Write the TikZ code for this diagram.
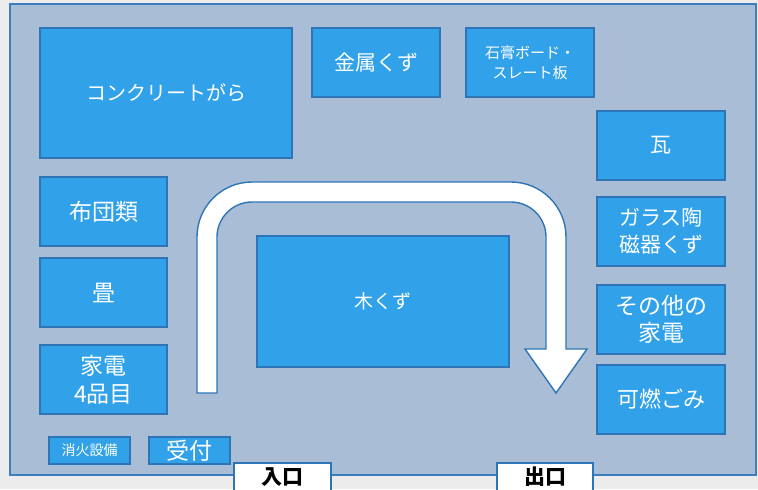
\documentclass[tikz,border=0pt]{standalone}
\usepackage{fontspec}
\setmainfont{Noto Sans CJK JP}
\usepackage{tikz}
\usetikzlibrary{calc}

\definecolor{boxfill}{RGB}{49,162,234}
\definecolor{boxline}{RGB}{46,117,182}
\definecolor{yardfill}{RGB}{170,189,215}
\definecolor{yardline}{RGB}{59,127,191}
\newcommand{\setfs}[2]{\fontsize{#1}{#2}\selectfont}

\tikzset{
  zone/.style={draw=boxline, fill=boxfill, text=white, align=center, inner sep=0pt, line width=.7pt},
  gate/.style={draw=boxline, fill=white, text=black, align=center, inner sep=0pt, line width=.7pt, font=\setfs{10.5pt}{12pt}\bfseries},
  route/.style={draw=boxline, fill=white, line width=.7pt}
}

\begin{document}
\begin{tikzpicture}[x=.5pt,y=-.5pt]
\useasboundingbox (0,0) rectangle (758,489);
\clip (0,0) rectangle (758,489);
\fill [gray!15] (0,0) rectangle (758,489);
% yard
\draw [draw=yardline, fill=yardfill, line width=.7pt] (10,4) rectangle (756,475);
% left column
\node (conc) at (166,93) [zone, minimum width=126pt, minimum height=65pt, font=\setfs{10pt}{12pt}] {コンクリートがら};
\node (futon) at (103.5,211.5) [zone, minimum width=63.5pt, minimum height=34.5pt, font=\setfs{11.5pt}{14pt}] {布団類};
\node (tatami) at (103.5,292.5) [zone, minimum width=63.5pt, minimum height=34.5pt, font=\setfs{11.5pt}{14pt}] {畳};
\node (kaden) at (103.5,379.5) [zone, minimum width=63.5pt, minimum height=34.5pt, font=\setfs{11.5pt}{14pt}] {家電\\4品目};
\node (fire) at (89.5,450.5) [zone, minimum width=40.5pt, minimum height=13.5pt, font=\setfs{7pt}{8pt}] {消火設備};
\node (desk) at (189.5,450.5) [zone, minimum width=40.5pt, minimum height=13.5pt, font=\setfs{11.5pt}{13pt}] {受付};
% top row
\node (metal) at (376,62.5) [zone, minimum width=64pt, minimum height=34.5pt, font=\setfs{10.5pt}{12pt}] {金属くず};
\node (gyps) at (530,62.5) [zone, minimum width=64pt, minimum height=34.5pt, font=\setfs{7.5pt}{10pt}] {石膏ボード・\\スレート板};
% right column
\node (tile) at (661,145.5) [zone, minimum width=64pt, minimum height=34.5pt, font=\setfs{10.5pt}{12pt}] {瓦};
\node (glass) at (661,231.5) [zone, minimum width=64pt, minimum height=34.5pt, font=\setfs{10.5pt}{13.5pt}] {ガラス陶\\磁器くず};
\node (other) at (661,319.5) [zone, minimum width=64pt, minimum height=34.5pt, font=\setfs{11.5pt}{13.5pt}] {その他の\\家電};
\node (burn) at (661,399.5) [zone, minimum width=64pt, minimum height=34.5pt, font=\setfs{11pt}{13pt}] {可燃ごみ};
% middle
\node (wood) at (383,301.5) [zone, minimum width=126pt, minimum height=65.5pt, font=\setfs{9.5pt}{12pt}] {木くず};
% route
\draw [route] (197,393) -- (197,237) .. controls (197,206.6) and (221.6,182) .. (252,182)
  -- (511,182) .. controls (541.4,182) and (566,206.6) .. (566,237) -- (566,349)
  -- (587,349) -- (556,393) -- (525,349) -- (546,349) -- (546,237)
  .. controls (546,217.7) and (530.3,202) .. (511,202) -- (252,202)
  .. controls (232.7,202) and (217,217.7) .. (217,237) -- (217,393) -- cycle;
% gates
\node (entr) at (282.5,477) [gate, minimum width=48.5pt, minimum height=14pt] {入口};
\node (exit) at (545,477) [gate, minimum width=48pt, minimum height=14pt] {出口};
\end{tikzpicture}
\end{document}
